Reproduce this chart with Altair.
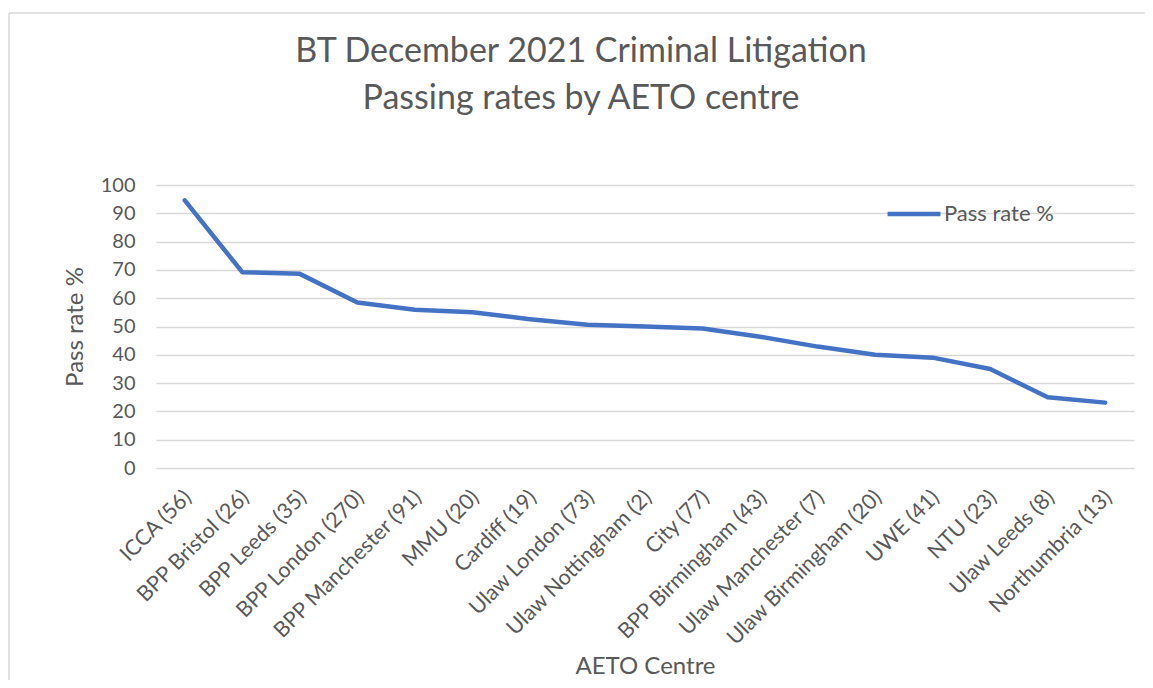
import altair as alt
import pandas as pd

centres = ["ICCA (56)", "BPP Bristol (26)", "BPP Leeds (35)", "BPP London (270)",
           "BPP Manchester (91)", "MMU (20)", "Cardiff (19)", "Ulaw London (73)",
           "Ulaw Nottingham (2)", "City (77)", "BPP Birmingham (43)",
           "Ulaw Manchester (7)", "Ulaw Birmingham (20)", "UWE (41)", "NTU (23)",
           "Ulaw Leeds (8)", "Northumbria (13)"]
pass_rate = [94.6, 69.2, 68.6, 58.5, 55.9, 55.0, 52.6, 50.6, 50.0, 49.3, 46.4,
             42.9, 40.0, 39.0, 35.0, 25.0, 23.1]
series = ["Pass rate %"] * len(centres)

df = pd.DataFrame({"centre": centres, "rate": pass_rate, "series": series})

FONT = "Lato"
GREY = "#595959"

line = alt.Chart(df).mark_line(strokeWidth=4.5, strokeCap="round", strokeJoin="round").encode(
    x=alt.X("centre:N", sort=None, title="AETO Centre",
            scale=alt.Scale(padding=0.5),
            axis=alt.Axis(labelAngle=-45, labelAlign="right", labelBaseline="middle",
                          labelPadding=26, labelOffset=3, labelFontSize=21.5, labelColor=GREY,
                          labelLimit=400, ticks=False, domain=False, grid=False,
                          titleFontSize=24, titleColor=GREY, titleFontWeight="normal",
                          titleY=198, titleBaseline="middle")),
    y=alt.Y("rate:Q", title="Pass rate %",
            scale=alt.Scale(domain=[0, 100], nice=False),
            axis=alt.Axis(values=list(range(0, 101, 10)), labelFontSize=20,
                          labelColor=GREY, labelPadding=21, ticks=False, domain=False,
                          gridColor="#d9d9d9", gridWidth=1.5,
                          titleFontSize=24, titleColor=GREY, titleFontWeight="normal",
                          titleX=-81, titleBaseline="middle")),
    color=alt.Color("series:N", scale=alt.Scale(range=["#4472C4"]),
                    legend=alt.Legend(title=None, orient="none", legendX=729, legendY=0,
                                      symbolType="stroke", symbolSize=2800,
                                      symbolStrokeWidth=4.5, labelFontSize=22,
                                      labelColor=GREY, labelOffset=1))
)

frame_df = pd.DataFrame({"k": [0]})
frame_top = alt.Chart(frame_df).mark_rule(stroke="#d9d9d9", strokeWidth=1.5, clip=False).encode(
    x=alt.value(-147), x2=alt.value(1100), y=alt.value(-172)
)
frame_left = alt.Chart(frame_df).mark_rule(stroke="#d9d9d9", strokeWidth=1.5, clip=False).encode(
    x=alt.value(-147), y=alt.value(-172), y2=alt.value(700)
)

chart = alt.layer(frame_top, frame_left, line).properties(
    width=978, height=283,
    title=alt.TitleParams(
        text=["BT December 2021 Criminal Litigation", "Passing rates by AETO centre"],
        fontSize=34, font=FONT, color=GREY, fontWeight="normal",
        anchor="middle", frame="group", dx=-64, lineHeight=47, offset=-104),
    padding={"left": 148, "top": 177, "right": 11, "bottom": 212},
    autosize=alt.AutoSizeParams(type="none")
).configure(font=FONT).configure_view(stroke=None)

chart.save("out.html", embed_options={"renderer": "svg", "actions": False})
